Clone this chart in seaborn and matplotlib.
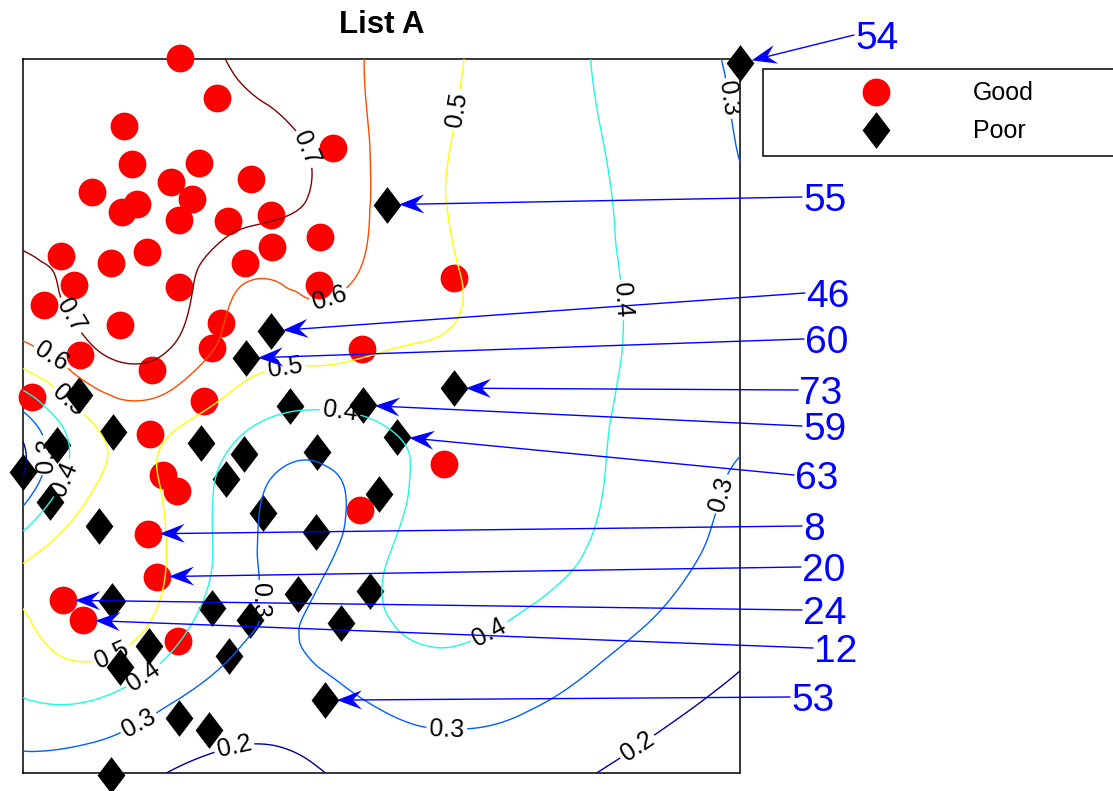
import numpy as np
import matplotlib
matplotlib.use("Agg")
import matplotlib.pyplot as plt
import matplotlib.tri as mtri
from matplotlib.lines import Line2D
from matplotlib.patches import Polygon
import seaborn as sns

# ---------------- data ----------------
good_x = [21.9, 27.1, 14.1, 43.2, 15.2, 24.5, 20.6, 31.8, 9.6, 23.6, 15.9, 13.8,
          21.8, 28.6, 34.6, 41.4, 34.7, 5.3, 12.3, 17.3, 31.0, 7.1, 21.8, 41.3,
          2.9, 13.5, 27.6, 7.9, 18.0, 26.4, 47.3, 60.1, 1.3, 25.2, 17.7, 19.5,
          21.5, 17.4, 18.7, 5.6, 8.4, 21.6, 47.0, 58.7]
good_y = [100.1, 94.5, 90.6, 87.5, 85.3, 85.4, 82.8, 83.2, 81.4, 80.4, 79.7, 78.6,
          77.5, 77.3, 78.2, 75.1, 73.7, 72.4, 71.4, 73.0, 71.4, 68.3, 68.1, 68.3,
          65.5, 62.7, 63.0, 58.5, 56.4, 59.5, 59.4, 69.3, 52.7, 52.1, 47.5, 41.7,
          39.5, 33.5, 27.5, 24.2, 21.4, 18.5, 36.8, 43.3]

poor_x = [100.0, 50.8, 34.6, 31.1, 7.8, 37.2, 47.4, 60.1, 52.2, 12.6, 4.7, 24.8,
          30.8, 41.0, 0.0, 28.3, 3.8, 33.5, 10.6, 40.9, 49.7, 12.4, 26.4, 31.7,
          38.4, 48.4, 44.4, 17.6, 13.5, 28.7, 42.1, 21.8, 25.9, 12.3]
poor_y = [99.4, 79.6, 61.9, 58.1, 52.9, 51.4, 51.5, 53.9, 47.1, 47.8, 45.9, 46.2,
          44.7, 45.0, 42.2, 41.2, 38.0, 36.4, 34.6, 33.8, 39.1, 24.1, 23.1, 21.4,
          25.1, 25.5, 21.0, 17.8, 14.8, 16.4, 10.2, 7.7, 6.0, -0.3]

# estimated field values on a coarse grid (rows: y = 0 ... 100)
grid_x = [0, 10, 20, 30, 40, 50, 60, 70, 80, 90, 100]
grid_y = [0, 10, 20, 30, 40, 50, 60, 70, 80, 90, 100]
field = [
    [0.25, 0.24, 0.20, 0.17, 0.19, 0.24, 0.27, 0.25, 0.20, 0.16, 0.13],
    [0.395, 0.395, 0.31, 0.25, 0.26, 0.31, 0.33, 0.31, 0.27, 0.22, 0.18],
    [0.47, 0.56, 0.45, 0.315, 0.308, 0.385, 0.415, 0.38, 0.33, 0.28, 0.23],
    [0.49, 0.57, 0.50, 0.34, 0.27, 0.39, 0.43, 0.43, 0.385, 0.32, 0.28],
    [0.23, 0.50, 0.49, 0.35, 0.27, 0.36, 0.43, 0.43, 0.405, 0.34, 0.29],
    [0.28, 0.52, 0.54, 0.44, 0.385, 0.41, 0.44, 0.44, 0.41, 0.36, 0.32],
    [0.59, 0.705, 0.715, 0.56, 0.54, 0.51, 0.49, 0.45, 0.415, 0.37, 0.335],
    [0.68, 0.74, 0.76, 0.62, 0.625, 0.57, 0.505, 0.45, 0.412, 0.37, 0.33],
    [0.76, 0.79, 0.79, 0.75, 0.695, 0.58, 0.495, 0.45, 0.41, 0.36, 0.31],
    [0.80, 0.82, 0.78, 0.74, 0.685, 0.58, 0.50, 0.45, 0.403, 0.35, 0.295],
    [0.82, 0.80, 0.75, 0.69, 0.64, 0.585, 0.51, 0.45, 0.395, 0.335, 0.29],
]
contour_levels = [0.2, 0.3, 0.4, 0.5, 0.6, 0.7]

ann_labels = ["54", "55", "46", "60", "73", "59", "63", "8", "20", "24", "12", "53"]
ann_target_x = [100.0, 50.8, 34.6, 31.1, 60.1, 47.4, 52.2, 17.4, 18.7, 5.6, 8.4, 42.1]
ann_target_y = [99.4, 79.6, 61.9, 58.1, 53.9, 51.5, 47.1, 33.5, 27.5, 24.2, 21.4, 10.2]

# ---------------- style / layout ----------------
contour_colors = ["#000098", "#0060ff", "#20f8e0", "#ffff00", "#ff4a00", "#800000"]
label_pos = [(39.1, 87.3), (5.2, 63.4),
             (43.2, 65.1), (3.5, 57.6),
             (60.3, 92.9), (36.5, 57.4), (12.1, 17.2), (5.9, 51.5),
             (82.8, 66.2), (44.2, 50.1), (65.1, 19.6), (16.3, 14.4), (7.0, 40.6),
             (97.2, 94.3), (34.4, 24.2), (16.3, 6.7), (59.1, 6.4), (98.2, 38.9), (3.1, 44.5),
             (29.3, 4.3), (86.0, 3.2)]
ann_text_px = [(855, 35), (803, 197), (806, 293), (805, 339), (799, 390), (803, 426),
               (795, 475), (803, 526), (802, 567), (803, 610), (814, 648), (791, 697)]

sns.set_theme(style="white")
plt.rcParams["font.family"] = ["Liberation Sans", "DejaVu Sans"]
plt.rcParams["text.color"] = "black"

W, H = 1113, 791
fig = plt.figure(figsize=(W / 100, H / 100), dpi=100)
fig.patch.set_facecolor("white")
ax = fig.add_axes([23 / W, 18 / H, 717 / W, 714 / H])
ax.set_xlim(0, 100)
ax.set_ylim(0, 100)
ax.set_xticks([])
ax.set_yticks([])
ax.set_facecolor("white")
for sp in ax.spines.values():
    sp.set_visible(True)
    sp.set_color("black")
    sp.set_linewidth(1.1)
    sp.set_zorder(2.5)

# markers
diamond = [(0, 1), (0.757, 0), (0, -1), (-0.757, 0)]
sns.scatterplot(x=good_x, y=good_y, color="#ff0000", marker="o", s=400,
                linewidth=0, ax=ax, label="Good", clip_on=False, zorder=3)
sns.scatterplot(x=poor_x, y=poor_y, color="black", marker=diamond, s=700,
                linewidth=0, ax=ax, label="Poor", clip_on=False, zorder=3)

# contour field
Z = np.array(field, dtype=float)
GX, GY = np.meshgrid(np.array(grid_x, float), np.array(grid_y, float))
ny, nx = Z.shape
tris = []
for j in range(ny - 1):
    for i in range(nx - 1):
        a = j * nx + i
        b = a + 1
        c = a + nx
        d = c + 1
        tris.append([a, b, d])
        tris.append([a, d, c])
tri = mtri.Triangulation(GX.ravel(), GY.ravel(), np.array(tris))
interp = mtri.CubicTriInterpolator(tri, Z.ravel(), kind="min_E")
refiner = mtri.UniformTriRefiner(tri)
tri_r, z_r = refiner.refine_field(Z.ravel(), triinterpolator=interp, subdiv=4)
cs = ax.tricontour(tri_r, z_r, levels=contour_levels, colors=contour_colors,
                   linewidths=1.0, zorder=4)
ax.clabel(cs, fmt="%.1f", fontsize=18, colors="black", inline=True,
          inline_spacing=3, manual=label_pos)

# title
ax.set_title("List A", fontsize=22.5, fontweight="bold", color="black",
             y=1 + (59 - 25) / 714, pad=0, va="center")

# legend
handles, labels = ax.get_legend_handles_labels()
leg = ax.legend(handles, labels, loc="upper left", mode="expand",
                bbox_to_anchor=(763 / W, 0.3, 0.34, 1 - 69 / H - 0.3),
                bbox_transform=fig.transFigure, borderaxespad=0,
                fontsize=18, borderpad=0.5, handlelength=8.06, handletextpad=-0.15,
                labelspacing=0.55, scatteryoffsets=[0.5], fancybox=False,
                frameon=True, framealpha=1, edgecolor="black", labelcolor="black")
leg.get_frame().set_linewidth(1.1)

# annotations with arrows
fig.canvas.draw()
to_fig = fig.transFigure.inverted()
for lab, tx, ty, (px, py) in zip(ann_labels, ann_target_x, ann_target_y, ann_text_px):
    fig.text(px / W, 1 - (py + 14) / H, lab, color="#0000ff", fontsize=28,
             ha="left", va="baseline")
    start = np.array([px - 1.0, H - py])
    target = ax.transData.transform((tx, ty))
    dvec = start - target
    u = dvec / np.linalg.norm(dvec)
    nrm = np.array([-u[1], u[0]])
    tip = target + u * 12
    hl, hw, notch = 25.0, 9.5, 9.0
    back = tip + u * hl
    joint = tip + u * (hl - notch)
    pts = np.array([tip, back + nrm * hw, joint, back - nrm * hw])
    pts_f = to_fig.transform(pts)
    seg = to_fig.transform(np.array([start, joint]))
    fig.add_artist(Line2D(seg[:, 0], seg[:, 1], color="#0000ff", linewidth=1.0,
                          transform=fig.transFigure, zorder=5))
    fig.add_artist(Polygon(pts_f, closed=True, facecolor="#0000ff", edgecolor="none",
                           transform=fig.transFigure, zorder=5))

fig.savefig("out.png", dpi=100, facecolor="white")
